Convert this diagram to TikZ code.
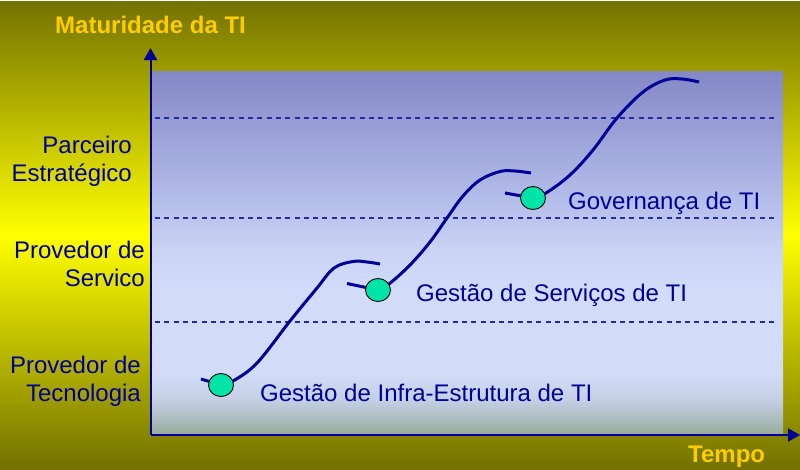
\documentclass[tikz,border=0pt]{standalone}
\usepackage{fontspec}
\setmainfont{Liberation Sans}
\usetikzlibrary{arrows.meta,shapes.geometric}
\definecolor{olivedark}{RGB}{115,113,0}
\definecolor{brightyel}{RGB}{255,255,0}
\definecolor{labblue}{RGB}{0,0,150}
\definecolor{curveblue}{RGB}{0,0,150}
\definecolor{dashblue}{RGB}{40,40,170}
\definecolor{gold}{RGB}{255,204,0}
\definecolor{dotgreen}{RGB}{0,228,168}
\definecolor{pA}{HTML}{98AB9B}
\definecolor{pB}{HTML}{C4CFE4}
\definecolor{pC}{HTML}{D2DBF7}
\definecolor{pD}{HTML}{D2DBF8}
\definecolor{pE}{HTML}{CAD3F4}
\definecolor{pF}{HTML}{B5BDEA}
\definecolor{pG}{HTML}{959BD3}
\definecolor{pH}{HTML}{8488C5}
\pgfdeclareverticalshading{plotshade}{100bp}{color(0bp)=(pA); color(25bp)=(pA); color(29.8bp)=(pB); color(33.25bp)=(pC); color(45bp)=(pD); color(50.5bp)=(pE); color(57.3bp)=(pF); color(68.6bp)=(pG); color(75bp)=(pH); color(100bp)=(pH)}
\tikzset{
  bigfont/.style={font=\fontsize{24}{28}\selectfont},
  lvl/.style={bigfont, text=labblue, align=right, inner sep=0pt, anchor=base east},
  phase/.style={bigfont, text=labblue, inner sep=0pt, anchor=base west},
  axtitle/.style={font=\fontsize{24}{28}\selectfont\bfseries, text=gold, inner sep=0pt, anchor=base west},
  axisline/.style={draw=curveblue, line width=2pt, -{Triangle[width=13pt,length=12pt]}},
  dashline/.style={draw=dashblue, line width=1.1pt, dash pattern=on 5pt off 4.3pt},
  curve/.style={draw=curveblue, line width=3pt},
  dot/.style={ellipse, draw=black, line width=0.9pt, fill=dotgreen, minimum width=25pt, minimum height=23pt, inner sep=0pt}
}
\begin{document}
\begin{tikzpicture}[x=1pt,y=-1pt]
\useasboundingbox (0,0) rectangle (800,469);
\shade[top color=olivedark, bottom color=olivedark, middle color=brightyel] (0,0) rectangle (800,469);
\fill[white] (0,0) rectangle (800,1.2);
\shade[shading=plotshade] (150,71.5) rectangle (783,435);
% dashed level lines
\draw[dashline] (155,118) -- (778,118);
\draw[dashline] (155,218) -- (778,218);
\draw[dashline] (155,322) -- (778,322);
% axes
\coordinate (O) at (150.5,435);
\coordinate (ytip) at (150.5,48);
\coordinate (xtip) at (800,435);
\draw[axisline] (O) -- (ytip);
\draw[axisline] (O) -- (xtip);
% axis titles
\node[axtitle] (ytitle) at (55,33) {Maturidade da TI};
\node[axtitle] (xtitle) at (688,462) {Tempo};
% level labels (anchor = baseline of the last line)
\node[lvl] (l3) at (132,181) {Parceiro\\Estratégico};
\node[lvl] (l2) at (145,286) {Provedor de\\Servico};
\node[lvl] (l1) at (141,401) {Provedor de\\Tecnologia};
% dots positions
\coordinate (p1) at (221,385);
\coordinate (p2) at (378,290);
\coordinate (p3) at (533,198);
\coordinate (t1) at (201,379);
\coordinate (t2) at (347,283.5);
\coordinate (t3) at (505,193);
% tails
\draw[curve] (t1) -- (p1);
\draw[curve] (t2) -- (p2);
\draw[curve] (t3) -- (p3);
% S-curves
\draw[curve] plot[smooth, tension=0.6] coordinates {(221,385) (233,381) (257,363) (290,321) (317,288) (334,268) (353,261.5) (367,262) (380,264)};
\draw[curve] plot[smooth, tension=0.6] coordinates {(378,290) (389,284) (410,265) (430,242) (447,218) (463,196) (480,180) (500,171.5) (515,171) (531,173)};
\draw[curve] plot[smooth, tension=0.6] coordinates {(533,198) (546,193) (570,175) (593,150) (617,118) (643,92) (665,80) (682,79) (699,82)};
% dots
\node[dot] (c1) at (p1) {};
\node[dot] (c2) at (p2) {};
\node[dot] (c3) at (p3) {};
% phase labels
\node[phase] (g1) at (260,401) {Gestão de Infra-Estrutura de TI};
\node[phase] (g2) at (416,301) {Gestão de Serviços de TI};
\node[phase] (g3) at (568,209) {Governança de TI};
\end{tikzpicture}
\end{document}
